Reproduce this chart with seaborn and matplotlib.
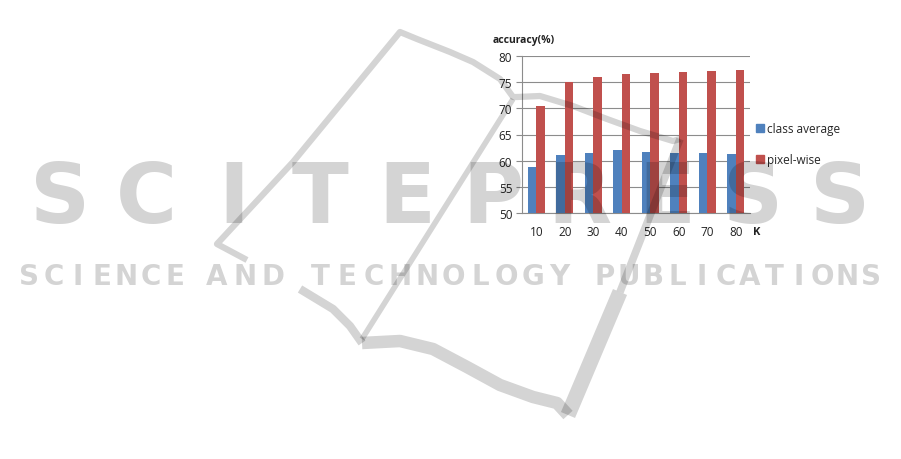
import numpy as np
import pandas as pd
import matplotlib
matplotlib.use("Agg")
import matplotlib.pyplot as plt
from matplotlib.lines import Line2D
import seaborn as sns

k_values = ["10", "20", "30", "40", "50", "60", "70", "80"]
class_average = [58.8, 61.1, 61.5, 62.1, 61.7, 61.5, 61.4, 61.2]
pixel_wise = [70.5, 75.0, 76.0, 76.5, 76.8, 77.0, 77.2, 77.3]
series_names = ["class average", "pixel-wise"]
colors = ["#4F81BD", "#C0504D"]

df = pd.DataFrame({
    "K": k_values * 2,
    "accuracy": class_average + pixel_wise,
    "series": [series_names[0]] * len(k_values) + [series_names[1]] * len(k_values),
})

sns.set_style("white")
plt.rcParams["font.family"] = ["Open Sans", "DejaVu Sans"]

W, H = 901, 460
fig = plt.figure(figsize=(W / 100, H / 100), dpi=100)
ax = fig.add_axes([522 / W, 1 - 214 / H, 228 / W, 157 / H])

sns.barplot(data=df, x="K", y="accuracy", hue="series", palette=colors,
            width=0.6, gap=0, saturation=1, linewidth=0, ax=ax, zorder=3)

ax.set_ylim(50, 80)
ax.set_yticks(np.arange(50, 81, 5))
ax.set_xlim(-0.5, len(k_values) - 0.5)
ax.grid(axis="y", color="#8c8c8c", linewidth=0.8, zorder=0)
ax.set_axisbelow(True)
for side in ["top", "right"]:
    ax.spines[side].set_visible(False)
for side in ["left", "bottom"]:
    ax.spines[side].set_color("#8c8c8c")
    ax.spines[side].set_linewidth(0.8)

ax.set_xticks(np.arange(-0.5, len(k_values), 1.0), minor=True)
ax.tick_params(axis="x", which="major", length=0, labelsize=8.5, pad=9, colors="#222222")
ax.tick_params(axis="x", which="minor", length=4, color="#8c8c8c", width=0.8)
ax.tick_params(axis="y", length=4, color="#8c8c8c", width=0.8, labelsize=8.5, pad=3,
               direction="out", left=True, labelcolor="#222222")
ax.set_xlabel("")
ax.set_ylabel("")

ax.legend_.remove()
handles = [plt.Rectangle((0, 0), 1, 1, color=c) for c in colors]
fig.legend(handles, series_names, loc="upper left", bbox_to_anchor=(750 / W, 1 - 117 / H),
           frameon=False, fontsize=8.5, handlelength=0.7, handleheight=0.7,
           handletextpad=0.25, labelspacing=1.55, borderpad=0)

fig.text(757 / W, 1 - 233 / H, "K", fontsize=8, fontweight="bold", ha="center",
         va="center", color="#222222")
fig.text(493 / W, 1 - 41 / H, "accuracy(%)", fontsize=7.5, fontweight="bold",
         ha="left", va="center", color="#222222")


# publisher watermark laid over the page
def stroke(points, width):
    xs = [p[0] / W for p in points]
    ys = [1 - p[1] / H for p in points]
    fig.add_artist(Line2D(xs, ys, transform=fig.transFigure, color="black", alpha=0.17,
                          linewidth=width, solid_joinstyle="round",
                          solid_capstyle="butt", zorder=10))


stroke([(680, 140), (673, 142), (640, 132), (607, 120), (573, 107), (540, 97), (517, 98),
        (513, 98), (500, 80), (473, 63), (450, 53), (417, 40), (400, 33),
        (293, 163), (217, 245), (247, 261)], 4.5)
stroke([(300, 290), (333, 310), (350, 327), (362, 344)], 6)
stroke([(362, 344), (400, 342), (433, 350), (467, 368), (500, 386), (533, 398),
        (557, 404), (568, 416)], 9)
stroke([(568, 416), (620, 293)], 11)
stroke([(620, 293), (680, 140)], 5.5)
stroke([(513, 100), (362, 340)], 4)


def spread(text, x0, x1, y, size):
    step = (x1 - x0) / len(text)
    for i, ch in enumerate(text):
        fig.text((x0 + step * (i + 0.5)) / W, 1 - y / H, ch, fontsize=size,
                 fontweight="bold", ha="center", va="center", color="black",
                 alpha=0.17, family="DejaVu Sans", zorder=11)


spread("SCITEPRESS", 17, 883, 200, 60)
spread("SCIENCE", 17, 187, 277, 20)
spread("AND", 203, 287, 277, 20)
spread("TECHNOLOGY", 307, 573, 277, 20)
spread("PUBLICATIONS", 593, 883, 277, 20)

fig.savefig("out.png", dpi=100)
